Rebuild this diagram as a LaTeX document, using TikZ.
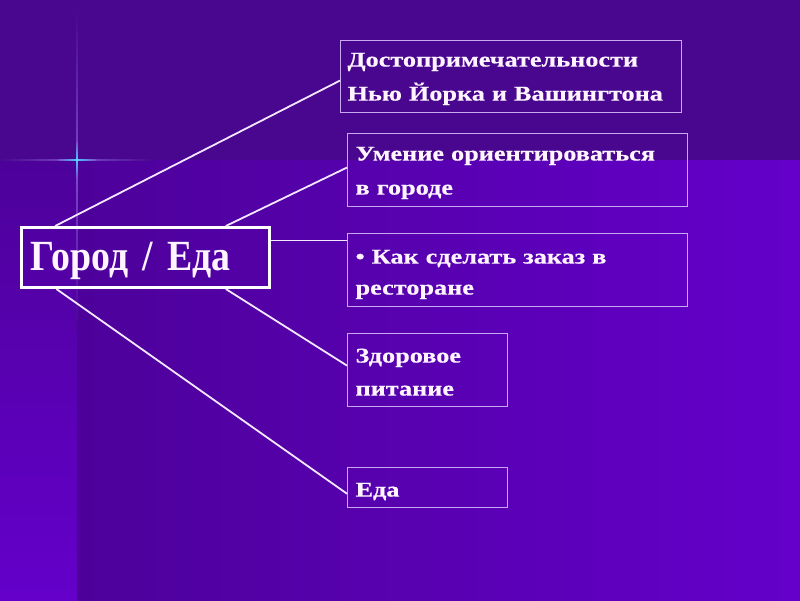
\documentclass[tikz,border=0pt]{standalone}
\usepackage{fontspec}
\setmainfont{Liberation Serif}
\newfontfamily\boxfont[FakeStretch=1.25, BoldFeatures={FakeBold=0.4}]{Liberation Serif}
\newfontfamily\mainfont[FakeStretch=0.88]{Liberation Serif}
\usetikzlibrary{calc}
\definecolor{topc}{HTML}{48078E}
\definecolor{darkc}{HTML}{4D019A}
\definecolor{lightc}{HTML}{6400CA}
\definecolor{boxline}{HTML}{C8A8F0}
\definecolor{conn}{HTML}{F4E8FF}
\definecolor{txt}{HTML}{FFF4FF}
\definecolor{glint}{HTML}{7C4CCB}
\definecolor{glow}{HTML}{48C8FF}
\tikzset{
  smallbox/.style={draw=boxline, line width=1.1pt, anchor=north west, align=left,
    inner xsep=8pt, inner ysep=0pt, text=txt,
    font=\boxfont\bfseries\fontsize{21}{34}\selectfont},
  mainbox/.style={draw=white, line width=3pt, anchor=north west, align=left,
    inner xsep=9pt, inner ysep=0pt, text=txt,
    font=\mainfont\bfseries\fontsize{43}{48}\selectfont},
  conline/.style={draw=conn, line width=1.8pt}
}
\begin{document}
\begin{tikzpicture}[x=1pt,y=-1pt]
\useasboundingbox (0,0) rectangle (800,600);
% background
\fill[topc] (0,0) rectangle (800,160);
\shade[top color=darkc, bottom color=lightc] (0,160) rectangle (77,600);
\shade[left color=darkc, right color=lightc] (77,160) rectangle (800,600);
% sparkle
\shade[left color=topc, right color=topc, middle color=glint] (0,159.3) rectangle (154,160.7);
\shade[top color=topc, bottom color=darkc, middle color=glint] (76.4,10) rectangle (77.6,330);
\shade[left color=glint, right color=glint, middle color=glow] (58,159.2) rectangle (96,160.8);
\shade[top color=glint, bottom color=glint, middle color=glow] (76.2,142) rectangle (77.8,178);
\fill[glow!70!white, opacity=0.7] (77,160) circle (1.6);
% nodes
\node[mainbox, text height=26pt, text depth=0pt, minimum width=248pt, minimum height=60pt, text width=230pt] (main) at (20,226) {Город / Еда};
\node[smallbox, text height=0pt, text depth=20pt, inner xsep=7pt, minimum width=341pt, minimum height=72pt, text width=327pt] (b1) at (340,40)
  {Достопримечательности\\Нью Йорка и Вашингтона};
\node[smallbox, text height=0pt, text depth=19pt, minimum width=340pt, minimum height=73pt, text width=324pt] (b2) at (347,133)
  {Умение ориентироваться\\в городе};
\node[smallbox, text height=0pt, text depth=13pt, minimum width=340pt, minimum height=73pt, text width=324pt,
  font=\boxfont\bfseries\fontsize{21}{31}\selectfont] (b3) at (347,233)
  {• Как сделать заказ в\\ресторане};
\node[smallbox, text height=0pt, text depth=15pt, minimum width=160pt, minimum height=73pt, text width=144pt,
  font=\boxfont\bfseries\fontsize{21}{33}\selectfont] (b4) at (347,333)
  {Здоровое\\питание};
\node[smallbox, text height=18pt, text depth=0pt, minimum width=160pt, minimum height=40pt, text width=144pt] (b5) at (347,467)
  {Еда};
% attachment points
\coordinate (m1) at ($(main.north west)!0.14!(main.north east)$);
\coordinate (m2) at ($(main.north west)!0.82!(main.north east)$);
\coordinate (m3) at ($(main.south west)!0.145!(main.south east)$);
\coordinate (m4) at ($(main.south west)!0.82!(main.south east)$);
\coordinate (e1) at ($(b1.north west)!0.555!(b1.south west)$);
\coordinate (e2) at ($(b2.north west)!0.466!(b2.south west)$);
\coordinate (e3) at ($(b3.north west)!0.1!(b3.south west)$);
\coordinate (e4) at ($(b4.north west)!0.44!(b4.south west)$);
\coordinate (e5) at ($(b5.north west)!0.65!(b5.south west)$);
% connectors
\draw[conline] (m1) -- (e1);
\draw[conline] (m2) -- (e2);
\draw[conline] (e3 -| main.east) -- (e3);
\draw[conline] (m4) -- (e4);
\draw[conline] (m3) -- (e5);
\end{tikzpicture}
\end{document}
